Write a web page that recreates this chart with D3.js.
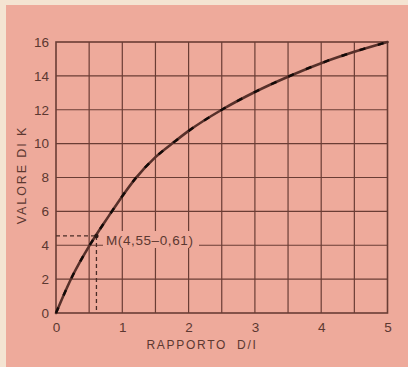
<!DOCTYPE html>
<html>
<head>
<meta charset="utf-8">
<script src="https://cdn.jsdelivr.net/npm/d3@7"></script>
<style>
  html, body { margin: 0; padding: 0; background: #f4e4d2; }
  svg { display: block; }
  text { font-family: "Liberation Sans", Arial, sans-serif; fill: #5c3831; }
</style>
</head>
<body>
<svg id="chart" width="408" height="367"></svg>
<script>
// Rapporto D/I (x) against valore di K (y)
const ratio  = [0, 0.25, 0.5, 0.8, 1, 1.2, 1.5, 1.8, 2, 2.5, 3, 3.5, 4, 4.5, 5];
const kValue = [0, 2.2, 3.95, 5.75, 6.9, 7.95, 9.2, 10.15, 10.75, 12.0, 13.05, 13.95, 14.75, 15.42, 16];

const xTicks = [0, 1, 2, 3, 4, 5];
const yTicks = [0, 2, 4, 6, 8, 10, 12, 14, 16];
const xGrid  = [0.5, 1, 1.5, 2, 2.5, 3, 3.5, 4, 4.5];
const yGrid  = [2, 4, 6, 8, 10, 12, 14];

const pointM = { label: "M(4,55\u20130,61)", ratio: 0.61, k: 4.55 };
const xTitle = "RAPPORTO  D/I";
const yTitle = "VALORE DI K";

const svg = d3.select("#chart");
const W = 408, H = 367;
const plot = { left: 56, right: 387.5, top: 42, bottom: 313 };

const x = d3.scaleLinear().domain([0, 5]).range([plot.left, plot.right]);
const y = d3.scaleLinear().domain([0, 16]).range([plot.bottom, plot.top]);

const ink = "#6a3d35";

// paper: pink card on a cream edge
svg.append("rect").attr("width", W).attr("height", H).attr("fill", "#f4e4d2");
svg.append("rect").attr("x", 6).attr("y", 5).attr("width", W - 6).attr("height", H - 5)
  .attr("fill", "#eeaa9b");

// grid
const grid = svg.append("g").attr("stroke", ink).attr("stroke-width", 1.2);
grid.selectAll("line.v").data(xGrid).join("line")
  .attr("x1", d => x(d)).attr("x2", d => x(d))
  .attr("y1", y(0)).attr("y2", y(16));
grid.selectAll("line.h").data(yGrid).join("line")
  .attr("x1", x(0)).attr("x2", x(5))
  .attr("y1", d => y(d)).attr("y2", d => y(d));

// frame
svg.append("rect")
  .attr("x", x(0)).attr("y", y(16))
  .attr("width", x(5) - x(0)).attr("height", y(0) - y(16))
  .attr("fill", "none").attr("stroke", ink).attr("stroke-width", 1.6);

// axes (labels only, the frame draws the lines)
const xAxis = svg.append("g").attr("transform", `translate(0,${plot.bottom})`)
  .call(d3.axisBottom(x).tickValues(xTicks).tickSize(0).tickPadding(9).tickFormat(d3.format("d")));
const yAxis = svg.append("g").attr("transform", `translate(${plot.left},0)`)
  .call(d3.axisLeft(y).tickValues(yTicks).tickSize(0).tickPadding(7).tickFormat(d3.format("d")));
[xAxis, yAxis].forEach(a => {
  a.select(".domain").remove();
  a.selectAll("text")
    .attr("font-family", "'Liberation Sans', Arial, sans-serif")
    .attr("font-size", 13.5).attr("fill", "#5c3831");
});

// axis titles
svg.append("text")
  .attr("x", 202).attr("y", 349)
  .attr("text-anchor", "middle")
  .attr("font-size", 12).attr("letter-spacing", 1.7)
  .style("white-space", "pre")
  .text(xTitle);
svg.append("text")
  .attr("transform", "translate(26,175) rotate(-90)")
  .attr("text-anchor", "middle")
  .attr("font-size", 12.5).attr("letter-spacing", 1.9)
  .text(yTitle);

// label box for point M (knocks out the grid behind it)
svg.append("rect")
  .attr("x", 103).attr("y", 231).attr("width", 96).attr("height", 17)
  .attr("fill", "#eeaa9b");

// curve: brown stroke with darker ink patches along it
const line = d3.line()
  .x((d, i) => x(ratio[i]))
  .y(d => y(d))
  .curve(d3.curveMonotoneX);
svg.append("path").datum(kValue)
  .attr("d", line)
  .attr("fill", "none").attr("stroke", "#57302a").attr("stroke-width", 2.6)
  .attr("stroke-linecap", "round");
svg.append("path").datum(kValue)
  .attr("d", line)
  .attr("fill", "none").attr("stroke", "#120a08").attr("stroke-width", 2.4)
  .attr("stroke-dasharray", "6 13");

// reference lines to M
const dash = svg.append("g").attr("stroke", "#4a2c27").attr("stroke-width", 1.3)
  .attr("stroke-dasharray", "4 3");
dash.append("line")
  .attr("x1", x(0)).attr("x2", x(pointM.ratio))
  .attr("y1", y(pointM.k)).attr("y2", y(pointM.k));
dash.append("line")
  .attr("x1", x(pointM.ratio)).attr("x2", x(pointM.ratio))
  .attr("y1", y(pointM.k)).attr("y2", y(0));
svg.append("circle")
  .attr("cx", x(pointM.ratio)).attr("cy", y(pointM.k)).attr("r", 2.2)
  .attr("fill", "#2a1714");

svg.append("text")
  .attr("x", 106).attr("y", 245)
  .attr("font-size", 13.5).attr("letter-spacing", 0.6)
  .text(pointM.label);
</script>
</body>
</html>
